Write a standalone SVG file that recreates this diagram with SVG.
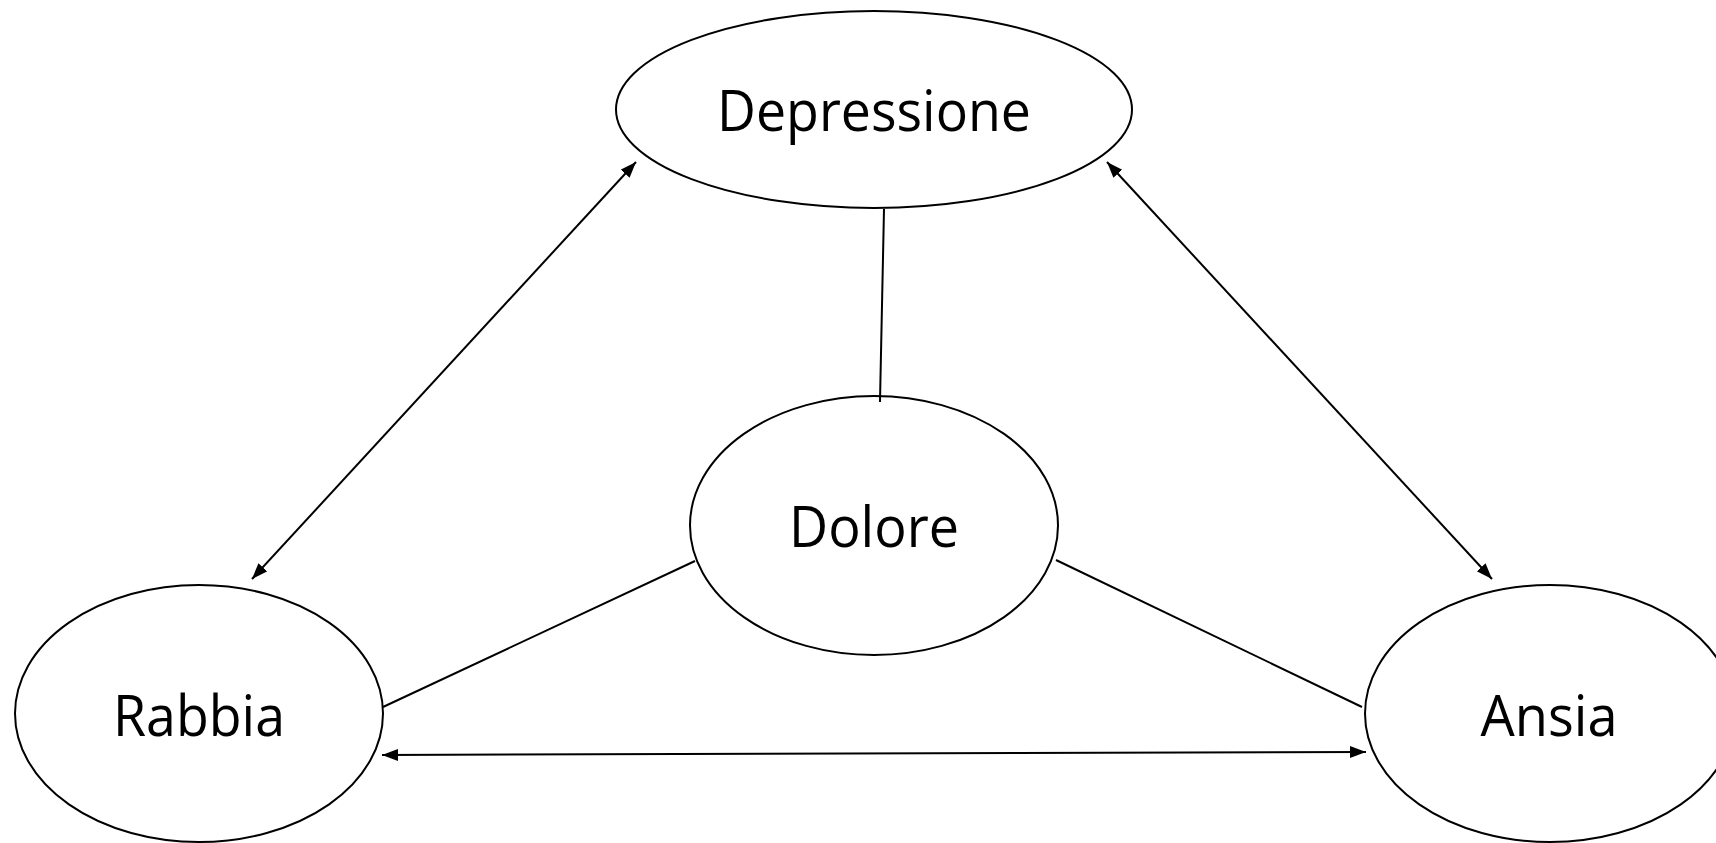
<svg xmlns="http://www.w3.org/2000/svg" width="1716" height="843" viewBox="0 0 1716 843">
  <style>
    .node ellipse { fill: #ffffff; stroke: #000000; stroke-width: 2; }
    .node text { font-family: "Open Sans", "Noto Sans", sans-serif; font-size: 57px; fill: #000000; text-anchor: middle; }
    .edge { stroke: #000000; stroke-width: 2; fill: none; }
    .arrow { marker-start: url(#ah); marker-end: url(#ah); }
  </style>
  <defs>
    <marker id="ah" markerUnits="userSpaceOnUse" markerWidth="17" markerHeight="13" refX="16" refY="6" orient="auto-start-reverse" viewBox="0 0 17 13">
      <path d="M0,0 L16,6 L0,12 z" fill="#000000"/>
    </marker>
  </defs>
  <rect width="1716" height="843" fill="#ffffff"/>
  <g id="nodes">
    <g id="node-depressione" class="node">
      <ellipse cx="874" cy="109.5" rx="258" ry="98.5"/>
      <text x="874" y="131" textLength="314" lengthAdjust="spacingAndGlyphs">Depressione</text>
    </g>
    <g id="node-dolore" class="node">
      <ellipse cx="874" cy="525.5" rx="184" ry="129.5"/>
      <text x="874" y="547" textLength="170" lengthAdjust="spacingAndGlyphs">Dolore</text>
    </g>
    <g id="node-rabbia" class="node">
      <ellipse cx="199" cy="713.5" rx="184" ry="128.5"/>
      <text x="199" y="736" textLength="172" lengthAdjust="spacingAndGlyphs">Rabbia</text>
    </g>
    <g id="node-ansia" class="node">
      <ellipse cx="1550" cy="713.5" rx="185" ry="128.5"/>
      <text x="1549" y="736" textLength="137" lengthAdjust="spacingAndGlyphs">Ansia</text>
    </g>
  </g>
  <g id="connectors">
    <line class="edge" x1="884" y1="209" x2="880" y2="402"/>
    <line class="edge" x1="695" y1="561" x2="383" y2="707"/>
    <line class="edge" x1="1056" y1="560" x2="1362" y2="707"/>
    <line class="edge arrow" x1="382" y1="755" x2="1366" y2="752"/>
    <line class="edge arrow" x1="252" y1="579" x2="636" y2="162"/>
    <line class="edge arrow" x1="1107" y1="162" x2="1492" y2="579"/>
  </g>
</svg>
